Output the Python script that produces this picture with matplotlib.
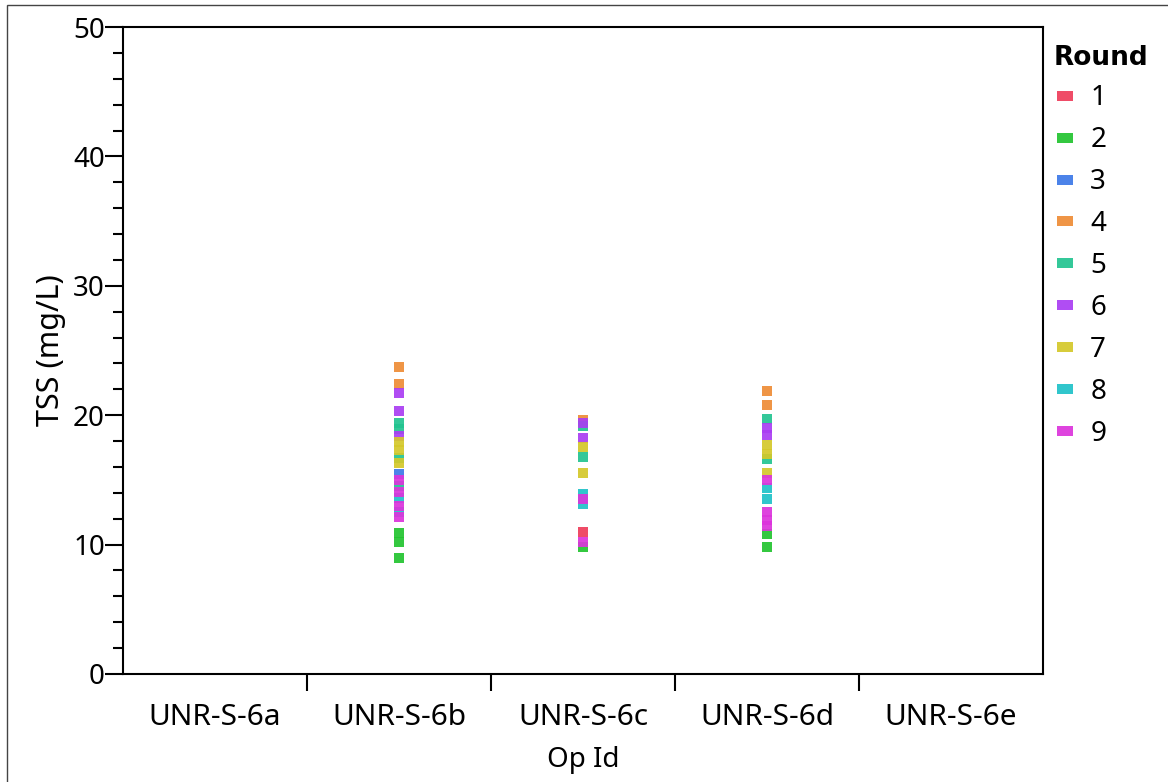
import matplotlib
matplotlib.use("Agg")
import matplotlib.pyplot as plt
from matplotlib.lines import Line2D
from matplotlib.patches import Rectangle
from matplotlib.ticker import MultipleLocator, FixedLocator

plt.rcParams['font.family'] = ['Noto Sans', 'DejaVu Sans']

# TSS readings per operation, grouped by sampling round
op_ids = ["UNR-S-6a", "UNR-S-6b", "UNR-S-6c", "UNR-S-6d", "UNR-S-6e"]
rounds = ["1", "2", "3", "4", "5", "6", "7", "8", "9"]
round_colors = ['#ee3d5a', '#22c430', '#3d78e8', '#ee8c36', '#22c490',
                '#aa3ef2', '#d4c82a', '#1fc2c8', '#dc34dc']

tss_6b = {
    "1": [],
    "2": [10.9, 10.2, 9.0],
    "3": [15.45],
    "4": [23.75, 22.4],
    "5": [19.4, 18.9, 16.7, 14.55],
    "6": [21.7, 20.3, 18.4],
    "7": [17.95, 17.3, 16.3],
    "8": [13.6, 12.55],
    "9": [15.0, 14.1, 13.0, 12.1],
}
tss_6c = {
    "1": [11.0],
    "2": [9.85],
    "3": [],
    "4": [19.6],
    "5": [19.2, 16.8],
    "6": [19.4, 18.2],
    "7": [17.55, 15.55],
    "8": [13.9, 13.1],
    "9": [13.5, 10.2],
}
tss_6d = {
    "1": [],
    "2": [10.8, 9.8],
    "3": [],
    "4": [21.9, 20.8],
    "5": [19.7, 16.6],
    "6": [19.0, 18.45],
    "7": [17.7, 17.0, 15.55],
    "8": [14.4, 13.5],
    "9": [15.0, 12.5, 11.9, 11.4],
}
tss_by_op = {"UNR-S-6b": tss_6b, "UNR-S-6c": tss_6c, "UNR-S-6d": tss_6d}

font_size = 20

fig = plt.figure(figsize=(11.68, 7.82), dpi=100)
ax = fig.add_axes([123 / 1168, 108 / 782, 920 / 1168, 647 / 782])

for i, rnd in enumerate(rounds):
    xs, ys = [], []
    for op, data in tss_by_op.items():
        vals = data[rnd]
        xs += [op_ids.index(op)] * len(vals)
        ys += vals
    ax.scatter(xs, ys, marker='s', s=55, color=round_colors[i],
               alpha=0.92, linewidths=0, zorder=3)

ax.set_xlim(-0.5, len(op_ids) - 0.5)
ax.set_ylim(0, 50)

ax.set_xticks(range(len(op_ids)))
ax.set_xticklabels(op_ids, fontsize=21.5)
ax.xaxis.set_minor_locator(FixedLocator([k + 0.5 for k in range(len(op_ids) - 1)]))
ax.tick_params(axis='x', which='major', length=0, pad=21)
ax.tick_params(axis='x', which='minor', length=12, width=1.5)

ax.yaxis.set_major_locator(MultipleLocator(10))
ax.yaxis.set_minor_locator(MultipleLocator(2))
ax.tick_params(axis='y', which='major', length=13, width=1.5, labelsize=font_size, pad=0)
ax.tick_params(axis='y', which='minor', length=7, width=1.5)

for sp in ax.spines.values():
    sp.set_linewidth(1.5)

ax.set_xlabel("Op Id", fontsize=font_size, labelpad=10)
ax.set_ylabel("TSS (mg/L)", fontsize=22, labelpad=5)

# legend swatches are short wide bars
swatch = [(-1, -0.6), (1, -0.6), (1, 0.6), (-1, 0.6)]
handles = [Line2D([], [], marker=swatch, linestyle='none', markersize=11,
                  color=c, alpha=0.92, markeredgewidth=0) for c in round_colors]
leg = ax.legend(handles, rounds, title="Round", loc='upper left',
                bbox_to_anchor=(1.0, 0.99), frameon=False, fontsize=font_size,
                alignment='left', handlelength=0.8, handletextpad=0.5,
                labelspacing=0.5, borderaxespad=0)
leg.get_title().set_fontfamily('DejaVu Sans')
leg.get_title().set_fontweight('bold')
leg.get_title().set_fontsize(19)

# thin frame around the figure
fig.patches.append(Rectangle((7 / 1168, -0.1), 1.2, (782 - 5) / 782 + 0.1,
                             transform=fig.transFigure, fill=False,
                             edgecolor='#444444', linewidth=1))

fig.savefig("out.png", dpi=100)
